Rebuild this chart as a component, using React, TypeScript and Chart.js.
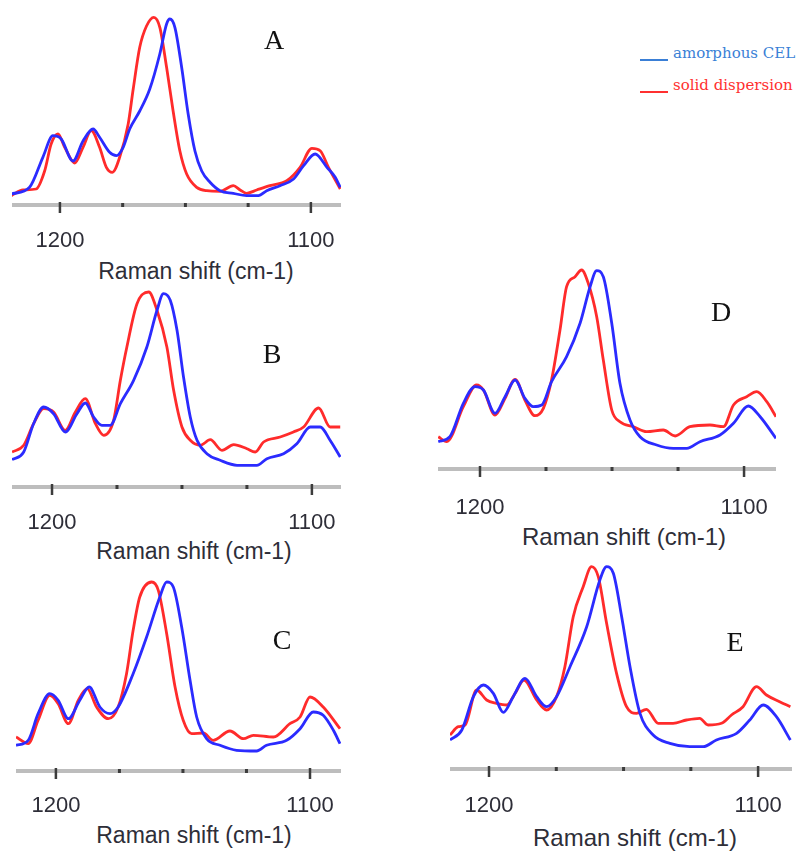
import React, { useEffect, useRef } from "react";
import { Chart, registerables } from "chart.js";
Chart.register(...registerables);

// ---- text ----
const seriesNames = ["amorphous CEL", "solid dispersion"];
const axisTitle = "Raman shift (cm-1)";
const shownTicks = [1200, 1100];
const panelLetters = ["A", "B", "C", "D", "E"];

// ---- data (Raman shift, relative intensity) ----
const aBlueX = [1219.4, 1212.1, 1206.8, 1202.8, 1199.5, 1194.8, 1190.8, 1186.8, 1184.2, 1180.2, 1177.5, 1174.8, 1172.2, 1168.2, 1164.2, 1160.2, 1157.5, 1156.2, 1154.2, 1151.5, 1148.9, 1146.2, 1143.5, 1140.2, 1136.2, 1130.9, 1125.6, 1120.9, 1117.6, 1112.3, 1106.9, 1102.9, 1098.3, 1093.6, 1090.3, 1088.3];
const aBlueY = [11, 17.7, 47.7, 69.3, 66, 44, 64, 76, 67.7, 52.7, 49.3, 57.7, 76, 94, 116, 151, 181, 186, 177.7, 137.7, 91, 54, 34, 22.7, 14.3, 11.7, 9.3, 9.3, 14.3, 19.3, 26, 39.3, 51, 37.7, 27.7, 17.7];
const aRedX = [1219.4, 1214.7, 1209.5, 1206.1, 1203.5, 1200.8, 1198.1, 1194.1, 1190.8, 1187.5, 1184.2, 1181.5, 1179.1, 1176.2, 1172.8, 1170.8, 1168.2, 1165.5, 1162.6, 1160.2, 1157.5, 1154.9, 1152.2, 1149.5, 1145.5, 1141.5, 1136.2, 1130.9, 1128.2, 1125.6, 1121.6, 1116.3, 1109.6, 1104.3, 1099.6, 1096.3, 1093, 1088.3];
const aRedY = [9.3, 15, 16, 34, 61, 71, 57.7, 42, 57.7, 74.3, 57.7, 37.7, 32.7, 47.7, 81, 116, 157.7, 179, 187.7, 177.7, 137.7, 94, 54, 31, 17.7, 14.3, 13.7, 19.3, 15, 11.7, 15, 19.3, 24.3, 37.7, 56.7, 54.3, 37.7, 16];

const bBlueX = [1215.4, 1210.9, 1207.1, 1203.2, 1199.4, 1194.9, 1190.4, 1187.2, 1184, 1180.8, 1177.6, 1173.7, 1168.6, 1163.5, 1159.6, 1157.1, 1154.5, 1151.9, 1149.4, 1146.8, 1144.2, 1140.4, 1135.3, 1128.8, 1121.2, 1117.3, 1110.9, 1105.8, 1100.6, 1096.8, 1093, 1089.1];
const bBlueY = [27.3, 35, 63.3, 80, 73.3, 55, 73.3, 84, 70, 61.7, 61.7, 83.3, 106.7, 140, 176.7, 193.3, 186.7, 156.7, 110, 70, 46.7, 33.3, 26.7, 21.7, 21.7, 28.3, 33.3, 43.3, 60, 60, 46.7, 30];
const bRedX = [1215.4, 1210.9, 1207.1, 1203.2, 1199.4, 1194.9, 1191, 1187.2, 1183.3, 1180.1, 1176.3, 1173.7, 1171.2, 1167.3, 1162.8, 1159.6, 1155.8, 1153.2, 1150, 1146.8, 1142.9, 1139.1, 1134.6, 1130.1, 1125, 1121.8, 1118.6, 1112.2, 1107.1, 1103.2, 1097.4, 1093, 1089.1];
const bRedY = [35, 41.7, 63.3, 78.3, 75, 56.7, 75, 88.3, 63.3, 51.7, 66.7, 106.7, 140, 183.3, 195, 176.7, 140, 96.7, 60, 46.7, 41.7, 47.3, 36.7, 42.3, 38.3, 35, 45, 50, 55, 60, 79, 60, 60];

const cBlueX = [1215.7, 1210.9, 1207, 1202.4, 1199.1, 1195.1, 1190.6, 1186.9, 1182.7, 1178.7, 1175.5, 1169.6, 1164.3, 1159.1, 1156.4, 1153.8, 1150.5, 1147.2, 1144.6, 1140.7, 1135.4, 1128.9, 1121, 1117.1, 1109.2, 1103.9, 1098.7, 1094.8, 1090.8, 1088.2];
const cBlueY = [25.7, 30.7, 57.3, 77.3, 70.7, 52.3, 70.7, 84, 64, 57.3, 64, 97.3, 134, 174, 189, 184, 144, 90.7, 54, 32.3, 25.7, 20.7, 20, 25.7, 30.7, 42.3, 59, 55.7, 40.7, 27.3];
const cRedX = [1215.7, 1210.9, 1207, 1202.4, 1199.1, 1195.1, 1191.2, 1187.7, 1184, 1179.4, 1175.5, 1172.2, 1169.6, 1167, 1162.3, 1159.7, 1156.4, 1153.1, 1149.9, 1146.6, 1142, 1138.1, 1131.5, 1126.2, 1122.3, 1114.4, 1107.9, 1103.9, 1100, 1094.8, 1088.2];
const cRedY = [34, 27.3, 50.7, 75.7, 67.3, 47.3, 70.7, 82.3, 64, 52.3, 64, 97.3, 140.7, 174, 189, 180.7, 137.3, 84, 50.7, 37.3, 38, 30.7, 40, 32.3, 35.7, 34, 47.3, 54, 74, 64, 42.3];

const dBlueX = [1215.8, 1211.4, 1206.3, 1201.9, 1198.7, 1194.3, 1190.5, 1186.7, 1183, 1179.8, 1176.6, 1172.9, 1167.2, 1162.1, 1158.3, 1155.8, 1153.3, 1150.1, 1147, 1143.2, 1139.4, 1133.1, 1126.8, 1121.7, 1116.7, 1109.1, 1104, 1098.4, 1093.9, 1087.9];
const dBlueY = [27.3, 32.3, 65.7, 82.3, 79, 55.7, 72.3, 89, 70.7, 62.3, 64, 87.3, 112.3, 145.7, 182.3, 198.3, 192.3, 145.7, 85.7, 49, 32.3, 24, 20.7, 20.7, 27.3, 34, 45.7, 63, 52.3, 30.7];
const dRedX = [1215.8, 1212.6, 1206.3, 1201.3, 1198.7, 1194.3, 1190.5, 1186.7, 1183, 1179.2, 1176, 1172.9, 1169.7, 1167.2, 1164, 1161.5, 1159, 1155.8, 1153.3, 1150.1, 1147, 1141.9, 1136.9, 1130.6, 1126.1, 1120.5, 1112.9, 1107.8, 1104, 1099, 1095.2, 1091.4, 1087.9];
const dRedY = [32.3, 27.3, 62.3, 84, 79, 54, 70.7, 89.7, 69, 53.3, 60.7, 89, 139, 182.3, 192.3, 199, 185.7, 152.3, 109, 59, 47.3, 42.3, 37.3, 39, 33, 42.3, 44, 42.3, 64, 72.3, 77.3, 67.3, 52.3];

const eBlueX = [1214.5, 1210.1, 1205.8, 1202.1, 1198.4, 1194.7, 1191, 1186.6, 1182.3, 1178.6, 1174.9, 1169.9, 1163.7, 1158.8, 1156.3, 1153.8, 1150.7, 1147.6, 1143.9, 1139, 1132.8, 1125.4, 1120.4, 1115.5, 1108, 1103.1, 1098.1, 1093.2, 1088];
const eBlueY = [29, 39, 72.3, 84, 75.7, 56.7, 72.3, 90.7, 72.3, 62.3, 72.3, 102.3, 142.3, 189, 202.3, 195.7, 152.3, 102.3, 55.7, 34, 25.7, 22.3, 22.3, 29, 35.7, 49, 64, 52.3, 29];
const eRedX = [1214.5, 1211.4, 1208.9, 1204.6, 1200.9, 1197.2, 1193.4, 1190.3, 1187, 1182.3, 1178.6, 1174.9, 1171.8, 1168.7, 1165, 1161.9, 1159.4, 1156.3, 1152.6, 1148.9, 1145.2, 1141.5, 1137.1, 1131.6, 1126.6, 1121.7, 1118.6, 1113.6, 1109.9, 1105.6, 1100.6, 1096.9, 1092, 1088];
const eRedY = [34, 42.3, 44, 79, 69, 65.7, 64, 75.7, 89, 69, 59, 72.3, 102.3, 152.3, 182.3, 202.3, 192.3, 145.7, 95.7, 62.3, 55.7, 59.7, 45.7, 45.7, 49, 50.7, 44, 45.7, 54, 62.3, 82.3, 74, 67.3, 62.3];

// ---- layout / style ----
const BLUE = "#2b2bff";
const RED = "#ff2b2b";
const PLOT_H = 210;
const PAD_TOP = 5;
const SCALE_H = 45;

const panels = [
  { letter: panelLetters[0], bx: aBlueX, by: aBlueY, rx: aRedX, ry: aRedY, canvasLeft: 0, canvasW: 360, axisY: 205, left: 12, right: 341, min: 1088, max: 1219.1, tickPad: 15, titleX: 196, titleY: 271, titleSize: 23, letterX: 274, letterY: 40 },
  { letter: panelLetters[1], bx: bBlueX, by: bBlueY, rx: bRedX, ry: bRedY, canvasLeft: 0, canvasW: 360, axisY: 487, left: 12, right: 341, min: 1088.8, max: 1215.4, tickPad: 15, titleX: 194, titleY: 551, titleSize: 23, letterX: 272, letterY: 354 },
  { letter: panelLetters[2], bx: cBlueX, by: cBlueY, rx: cRedX, ry: cRedY, canvasLeft: 0, canvasW: 360, axisY: 771, left: 16, right: 341, min: 1087.8, max: 1215.7, tickPad: 14, titleX: 194, titleY: 835, titleSize: 23, letterX: 282, letterY: 640 },
  { letter: panelLetters[3], bx: dBlueX, by: dBlueY, rx: dRedX, ry: dRedY, canvasLeft: 420, canvasW: 381, axisY: 469, left: 438, right: 776, min: 1087.9, max: 1215.9, tickPad: 18, titleX: 624, titleY: 537, titleSize: 24, letterX: 721, letterY: 312 },
  { letter: panelLetters[4], bx: eBlueX, by: eBlueY, rx: eRedX, ry: eRedY, canvasLeft: 420, canvasW: 381, axisY: 769, left: 450, right: 792, min: 1087.4, max: 1214.5, tickPad: 16, titleX: 635, titleY: 838, titleSize: 24, letterX: 735, letterY: 642 },
];

const axisPlugin = {
  id: "ramanAxis",
  afterDraw(chart: any) {
    const { ctx, chartArea } = chart;
    const xs = chart.scales.x;
    const y = chartArea.bottom;
    ctx.save();
    ctx.strokeStyle = "#bdbdbd";
    ctx.lineWidth = 4;
    ctx.beginPath();
    ctx.moveTo(chartArea.left, y);
    ctx.lineTo(chartArea.right, y);
    ctx.stroke();
    ctx.fillStyle = "#3c3c3c";
    for (const t of xs.ticks) {
      const px = xs.getPixelForValue(t.value);
      if (shownTicks.includes(t.value)) {
        ctx.fillRect(px - 1.25, y - 3, 2.5, 11);
      } else {
        ctx.fillRect(px - 1.5, y - 2, 3, 4);
      }
    }
    ctx.restore();
  },
};

function Panel({ p }: { p: any }) {
  const ref = useRef<HTMLCanvasElement>(null);
  const canvasH = PAD_TOP + PLOT_H + SCALE_H;
  const canvasTop = p.axisY - PLOT_H - PAD_TOP;
  useEffect(() => {
    const chart = new Chart(ref.current as HTMLCanvasElement, {
      type: "line",
      data: {
        datasets: [
          {
            label: seriesNames[0],
            data: p.bx.map((x: number, i: number) => ({ x, y: p.by[i] })),
            borderColor: BLUE,
            borderWidth: 2.8,
            pointRadius: 0,
            cubicInterpolationMode: "monotone",
            fill: false,
          },
          {
            label: seriesNames[1],
            data: p.rx.map((x: number, i: number) => ({ x, y: p.ry[i] })),
            borderColor: RED,
            borderWidth: 2.8,
            pointRadius: 0,
            cubicInterpolationMode: "monotone",
            fill: false,
          },
        ],
      },
      options: {
        responsive: false,
        animation: false,
        devicePixelRatio: 1,
        layout: {
          padding: {
            left: p.left - p.canvasLeft,
            right: p.canvasLeft + p.canvasW - p.right,
            top: PAD_TOP,
            bottom: 0,
          },
        },
        plugins: { legend: { display: false }, tooltip: { enabled: false }, title: { display: false } },
        scales: {
          x: {
            type: "linear",
            reverse: true,
            min: p.min,
            max: p.max,
            grid: { display: false },
            border: { display: false },
            ticks: {
              stepSize: 25,
              includeBounds: false,
              autoSkip: false,
              maxRotation: 0,
              padding: p.tickPad,
              color: "#2e2e38",
              font: { family: "'Liberation Sans', Arial, sans-serif", size: 22 },
              callback: (v: any) => (shownTicks.includes(Number(v)) ? String(v) : ""),
            },
            afterFit: (s: any) => {
              s.height = SCALE_H;
            },
          },
          y: { display: false, min: 0, max: PLOT_H },
        },
      } as any,
      plugins: [axisPlugin],
    });
    return () => chart.destroy();
  }, []);
  return (
    <>
      <canvas
        ref={ref}
        width={p.canvasW}
        height={canvasH}
        style={{ position: "absolute", left: p.canvasLeft, top: canvasTop, width: p.canvasW, height: canvasH }}
      />
      <div
        style={{
          position: "absolute",
          left: p.titleX,
          top: p.titleY,
          transform: "translate(-50%, -50%)",
          font: `${p.titleSize}px 'Liberation Sans', Arial, sans-serif`,
          color: "#2e2e38",
          whiteSpace: "nowrap",
        }}
      >
        {axisTitle}
      </div>
      <div
        style={{
          position: "absolute",
          left: p.letterX,
          top: p.letterY,
          transform: "translate(-50%, -50%)",
          font: "28px 'Liberation Serif', 'Times New Roman', serif",
          color: "#111111",
          lineHeight: "1",
        }}
      >
        {p.letter}
      </div>
    </>
  );
}

const legendMark = (color: string) => (
  <span
    style={{
      display: "inline-block",
      width: 28,
      borderBottom: `2.5px solid ${color}`,
      marginRight: 5,
      verticalAlign: "-3px",
    }}
  />
);

export default function App() {
  return (
    <div style={{ position: "absolute", left: 0, top: 0, width: 801, height: 853, background: "#ffffff", overflow: "hidden" }}>
      {panels.map((p) => (
        <Panel key={p.letter} p={p} />
      ))}
      <div style={{ position: "absolute", left: 640, top: 53, transform: "translateY(-50%)", font: "15px 'DejaVu Serif', serif", color: "#3a7fd6", whiteSpace: "nowrap" }}>
        {legendMark("#3a7fd6")}
        {seriesNames[0]}
      </div>
      <div style={{ position: "absolute", left: 640, top: 85, transform: "translateY(-50%)", font: "15px 'DejaVu Serif', serif", color: "#ff3030", whiteSpace: "nowrap" }}>
        {legendMark("#ff3030")}
        {seriesNames[1]}
      </div>
    </div>
  );
}
